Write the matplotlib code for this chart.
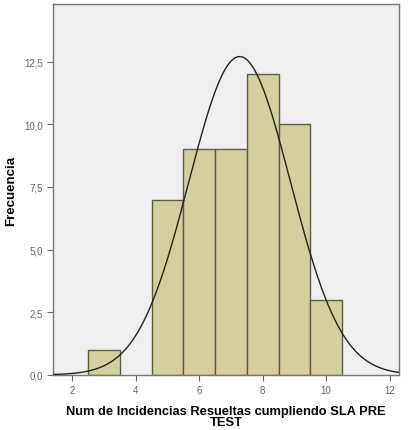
import matplotlib
matplotlib.use("Agg")
import matplotlib.pyplot as plt
import numpy as np
from matplotlib.ticker import FuncFormatter

plt.rcParams["font.family"] = ["Liberation Sans", "DejaVu Sans"]

# Histograma SPSS: valores centrados en enteros, ancho de clase 1
valores = [3, 5, 6, 7, 8, 9, 10]
frecuencias = [1, 7, 9, 9, 12, 10, 3]
x_ticks = [2, 4, 6, 8, 10, 12]
y_ticks = [0.0, 2.5, 5.0, 7.5, 10.0, 12.5]

fig = plt.figure(figsize=(4.09, 4.31), dpi=100)
ax = fig.add_axes([0.130, 0.128, 0.846, 0.860])
ax.set_facecolor("#efefef")

ax.bar(valores, frecuencias, width=1.0, color="#d4cf9c",
       edgecolor="#5e5c48", linewidth=1.0, zorder=2)

# curva normal con la media y desviacion de los datos
datos = np.repeat(valores, frecuencias)
n = len(datos)
media = datos.mean()
sd = datos.std(ddof=1)
xs = np.linspace(1.4, 12.3, 400)
ys = n * 1.0 / (sd * np.sqrt(2 * np.pi)) * np.exp(-0.5 * ((xs - media) / sd) ** 2)
ax.plot(xs, ys, color="#222222", linewidth=1.0, zorder=3)

ax.set_xlim(1.4, 12.3)
ax.set_ylim(0, 14.8)
ax.set_xticks(x_ticks)
ax.set_yticks(y_ticks)
ax.yaxis.set_major_formatter(FuncFormatter(lambda v, p: f"{v:.1f}".replace(".", ",")))
ax.tick_params(axis="both", labelsize=7, colors="#666666", length=4,
               width=0.8, direction="out")
for s in ax.spines.values():
    s.set_color("#777777")
    s.set_linewidth(1.0)

ax.set_ylabel("Frecuencia", fontsize=9.5, fontweight="bold", labelpad=5)
ax.set_xlabel("Num de Incidencias Resueltas cumpliendo SLA PRE\nTEST",
              fontsize=9.3, fontweight="bold", labelpad=7, linespacing=0.9)

fig.savefig("out.png", dpi=100)
